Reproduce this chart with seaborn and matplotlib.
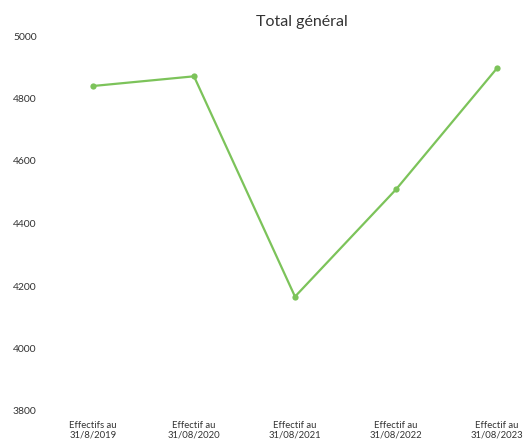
import matplotlib
matplotlib.use("Agg")
import matplotlib.pyplot as plt
import seaborn as sns
import pandas as pd

# values
categories = ["Effectifs au\n31/8/2019", "Effectif au\n31/08/2020", "Effectif au\n31/08/2021",
              "Effectif au\n31/08/2022", "Effectif au\n31/08/2023"]
totals = [4840, 4871, 4166, 4509, 4897]
y_ticks = [3800, 4000, 4200, 4400, 4600, 4800, 5000]

df = pd.DataFrame({"periode": categories, "total": totals})

sns.set_theme(style="white")
plt.rcParams['font.family'] = ['Lato', 'DejaVu Sans']

fig = plt.figure(figsize=(5.25, 4.46), dpi=100)
ax = fig.add_axes([45 / 525, (446 - 411) / 446, 480 / 525, 375 / 446])

sns.lineplot(data=df, x="periode", y="total", sort=False, ax=ax,
             color="#7cc35a", linewidth=1.6, marker="o", markersize=4.5,
             markeredgewidth=0)

ax.set_ylim(3800, 5000)
ax.set_yticks(y_ticks)
ax.set_xlim(-0.475, 4.277)
ax.set_xlabel("")
ax.set_ylabel("")
ax.tick_params(axis="both", length=0, labelsize=7.5, colors="#333333")
ax.tick_params(axis="y", pad=6)
ax.tick_params(axis="x", pad=7)
for lbl in ax.get_xticklabels():
    lbl.set_fontsize(6.8)
    lbl.set_linespacing(1.1)
for s in ax.spines.values():
    s.set_visible(False)

fig.text(0.575, 0.951, "Total général", ha="center", va="center", fontsize=11.5, color="#333333")

fig.savefig("out.png", dpi=100)
